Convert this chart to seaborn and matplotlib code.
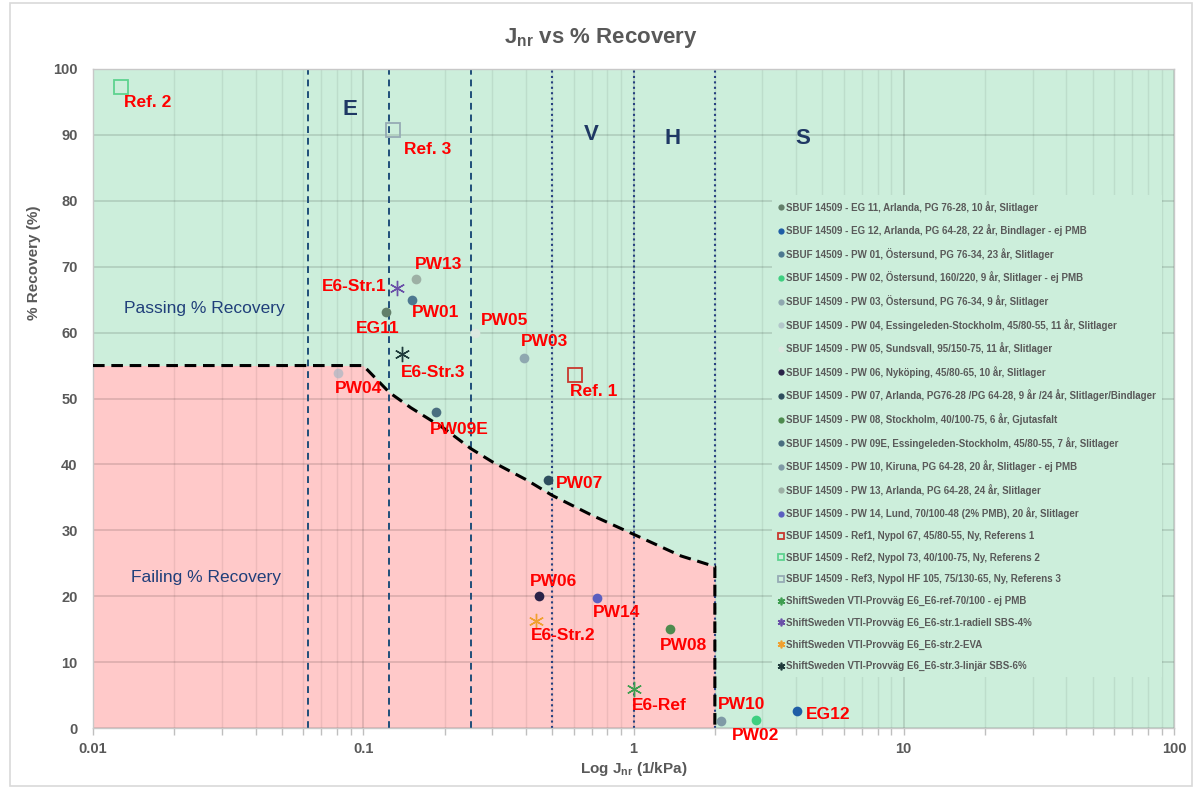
import numpy as np
import pandas as pd
import matplotlib
matplotlib.use("Agg")
import matplotlib.pyplot as plt
import seaborn as sns
from matplotlib.patches import Rectangle
from matplotlib.ticker import FixedLocator, FuncFormatter, NullFormatter

sns.set_style("white")
plt.rcParams['font.family'] = ['Liberation Sans', 'DejaVu Sans']
plt.rcParams['mathtext.fontset'] = 'custom'
plt.rcParams['mathtext.rm'] = 'Liberation Sans'
plt.rcParams['mathtext.bf'] = 'Liberation Sans:bold'

# --- data ---
short = ['EG11', 'EG12', 'PW01', 'PW02', 'PW03', 'PW04', 'PW05', 'PW06', 'PW07', 'PW08',
         'PW09E', 'PW10', 'PW13', 'PW14', 'Ref. 1', 'Ref. 2', 'Ref. 3',
         'E6-Ref', 'E6-Str.1', 'E6-Str.2', 'E6-Str.3']
names = [
    'SBUF 14509 - EG 11, Arlanda, PG 76-28, 10 år, Slitlager',
    'SBUF 14509 - EG 12, Arlanda, PG 64-28, 22 år, Bindlager - ej PMB',
    'SBUF 14509 - PW 01, Östersund, PG 76-34, 23 år, Slitlager',
    'SBUF 14509 - PW 02, Östersund, 160/220, 9 år, Slitlager - ej PMB',
    'SBUF 14509 - PW 03, Östersund, PG 76-34, 9 år, Slitlager',
    'SBUF 14509 - PW 04, Essingeleden-Stockholm, 45/80-55, 11 år, Slitlager',
    'SBUF 14509 - PW 05, Sundsvall, 95/150-75, 11 år, Slitlager',
    'SBUF 14509 - PW 06, Nyköping, 45/80-65, 10 år, Slitlager',
    'SBUF 14509 - PW 07, Arlanda, PG76-28 /PG 64-28, 9 år /24 år, Slitlager/Bindlager',
    'SBUF 14509 - PW 08, Stockholm, 40/100-75, 6 år, Gjutasfalt',
    'SBUF 14509 - PW 09E, Essingeleden-Stockholm, 45/80-55, 7 år, Slitlager',
    'SBUF 14509 - PW 10, Kiruna, PG 64-28, 20 år, Slitlager - ej PMB',
    'SBUF 14509 - PW 13, Arlanda, PG 64-28, 24 år, Slitlager',
    'SBUF 14509 - PW 14, Lund, 70/100-48 (2% PMB), 20 år, Slitlager',
    'SBUF 14509 - Ref1, Nypol 67, 45/80-55, Ny, Referens 1',
    'SBUF 14509 - Ref2, Nypol 73, 40/100-75, Ny, Referens 2',
    'SBUF 14509 - Ref3, Nypol HF 105, 75/130-65, Ny, Referens 3',
    'ShiftSweden VTI-Provväg E6_E6-ref-70/100 - ej PMB',
    'ShiftSweden VTI-Provväg E6_E6-str.1-radiell SBS-4%',
    'ShiftSweden VTI-Provväg E6_E6-str.2-EVA',
    'ShiftSweden VTI-Provväg E6_E6-str.3-linjär SBS-6%',
]
jnr = [0.121, 4.03, 0.152, 2.84, 0.394, 0.0805, 0.259, 0.447, 0.482, 1.37,
       0.186, 2.10, 0.157, 0.733, 0.607, 0.0127, 0.129,
       1.0, 0.133, 0.436, 0.139]
recovery = [63.1, 2.6, 64.9, 1.2, 56.2, 53.9, 60.0, 20.1, 37.7, 15.0,
            48.0, 1.1, 68.2, 19.8, 53.6, 97.3, 90.7,
            5.9, 66.7, 16.3, 56.7]

# pass/fail limit line
limit_jnr = [0.01, 0.1, 0.125, 0.15, 0.2, 0.25, 0.3, 0.4, 0.5, 0.7, 1.0, 1.5, 2.0, 2.0]
limit_rec = [55.0, 55.0, 50.9, 48.6, 45.4, 42.4, 40.4, 37.7, 35.3, 32.3, 29.4, 26.1, 24.5, 0.0]

# grade limits
grade_dashed = [0.0625, 0.125, 0.25]
grade_dotted = [0.5, 1.0, 2.0]
grade_letters = ['E', 'V', 'H', 'S']
grade_pos = [(0.0894, 93.8), (0.70, 90.0), (1.39, 89.4), (4.24, 89.5)]

# --- styles ---
colors = ['#637F6A', '#1F5EA6', '#4D7890', '#3ECF80', '#8FA8B0', '#A9B7C4', '#DCE8E0',
          '#2A2248', '#2E4E5E', '#4E8B4E', '#4A6E80', '#7F9AA6', '#9DB0A5', '#5B5FC0',
          '#C8382E', '#5ED38F', '#96ABB5',
          '#3E9E50', '#6A50A8', '#F0A030', '#1F3B3B']
kinds = ['o'] * 14 + ['s'] * 3 + ['x'] * 4
alphas = {5: 0.7}
offsets = {
    'EG11': (-8, -16), 'EG12': (31, -4), 'PW01': (23, -12), 'PW02': (0, -15),
    'PW03': (20, 16), 'PW04': (21, -16), 'PW05': (30, 12), 'PW06': (15, 14),
    'PW07': (32, -4), 'PW08': (13, -16), 'PW09E': (23, -18), 'PW10': (21, 16),
    'PW13': (22, 14), 'PW14': (20, -15), 'Ref. 1': (19, -17), 'Ref. 2': (27, -16),
    'Ref. 3': (34, -19), 'E6-Ref': (26, -16), 'E6-Str.1': (-43, 2),
    'E6-Str.2': (27, -15), 'E6-Str.3': (31, -18),
}
legend_ms = {'o': 4.5, 's': 4.5, 'x': 5.5}

df = pd.DataFrame({'short': short, 'name': names, 'jnr': jnr, 'rec': recovery})
lim = pd.DataFrame({'jnr': limit_jnr, 'rec': limit_rec})

green = '#CCEEDB'
red = '#FFC9C9'
gray = '#595959'

fig = plt.figure(figsize=(12.02, 7.89), dpi=100)
ax = fig.add_axes([93 / 1202, 61 / 789, 1081 / 1202, 659 / 789])
ax.set_facecolor(green)
fig.patches.append(Rectangle((10 / 1202, 3 / 789), 1182 / 1202, 783 / 789, transform=fig.transFigure,
                             fill=False, edgecolor='#D9D9D9', lw=1.2))

ax.set_xscale('log')
ax.set_xlim(0.01, 100)
ax.set_ylim(0, 100)

# failing area + limit line
ax.fill_between(lim['jnr'], lim['rec'], 0, color=red, lw=0, zorder=0.2)
sns.lineplot(data=lim, x='jnr', y='rec', estimator=None, sort=False, color='black',
             lw=2.2, ax=ax, zorder=3)
ax.lines[-1].set_linestyle((0, (3.8, 2.2)))

for g in grade_dashed:
    ax.axvline(g, color='#1F4E79', lw=1.4, ls=(0, (3.5, 2.5)), zorder=2)
for g in grade_dotted:
    ax.axvline(g, color='#26407F', lw=1.5, ls=(0, (1, 1.6)), zorder=2)
for letter, (gx, gy) in zip(grade_letters, grade_pos):
    ax.text(gx, gy, letter, color='#1F3864', fontsize=16, fontweight='bold', ha='center', va='center')

ax.text(0.0258, 63.7, 'Passing % Recovery', color='#203F7A', fontsize=12.5, ha='center', va='center')
ax.text(0.0262, 22.8, 'Failing % Recovery', color='#203F7A', fontsize=12.5, ha='center', va='center')

# points
for i, row in df.iterrows():
    k = kinds[i]
    c = colors[i]
    if k == 'o':
        ax.plot(row['jnr'], row['rec'], ls='none', marker='o', ms=7, mfc=c, mec='none',
                alpha=alphas.get(i, 1), label=row['name'], zorder=4)
    elif k == 's':
        ax.plot(row['jnr'], row['rec'], ls='none', marker='s', ms=9.5, mfc='none', mec=c,
                mew=1.3, label=row['name'], zorder=4)
    else:
        ax.plot(row['jnr'], row['rec'], ls='none', marker=(6, 2, 0), ms=11, color=c,
                mew=1.0, label=row['name'], zorder=4)
    ax.annotate(row['short'], (row['jnr'], row['rec']), xytext=offsets[row['short']],
                textcoords='offset pixels', ha='center', va='center', color='#FF0000',
                fontsize=12.5, fontweight='bold', zorder=5)

# grid / axes
ax.set_axisbelow(True)
ax.xaxis.set_major_locator(FixedLocator([0.01, 0.1, 1, 10, 100]))
ax.xaxis.set_major_formatter(FuncFormatter(lambda v, p: '{:g}'.format(v)))
ax.xaxis.set_minor_locator(matplotlib.ticker.LogLocator(base=10, subs=np.arange(2, 10)))
ax.xaxis.set_minor_formatter(NullFormatter())
ax.set_yticks(np.arange(0, 101, 10))
ax.grid(True, which='major', color='black', alpha=0.13, lw=1.3)
ax.grid(True, which='minor', axis='x', color='black', alpha=0.07, lw=1.0)
ax.tick_params(axis='y', length=0, pad=11, labelsize=10.5, labelcolor=gray)
ax.tick_params(axis='x', which='both', direction='out', length=5, width=1, color='#BFBFBF',
               pad=5, labelsize=10.5, labelcolor=gray, bottom=True)
for lab in ax.get_xticklabels() + ax.get_yticklabels():
    lab.set_fontweight('bold')
for s in ax.spines.values():
    s.set_color('#C8C8C8')
    s.set_linewidth(1)

ax.set_xlabel(r'Log J$_{\mathbf{nr}}$ (1/kPa)', fontsize=11, fontweight='bold', color=gray)
ax.xaxis.set_label_coords(0.5, -0.048)
ax.set_ylabel('% Recovery (%)', fontsize=11, fontweight='bold', color=gray)
ax.yaxis.set_label_coords(-0.048, 0.706)

fig.text(0.5, 1 - 38 / 789, r'J$_{\mathbf{nr}}$ vs % Recovery', ha='center', va='center',
         fontsize=16, fontweight='bold', color=gray)

leg = ax.legend(loc='upper left', bbox_to_anchor=(0.628, 0.809),
                handlelength=0.6, handletextpad=0.3, labelspacing=1.2, borderaxespad=0,
                borderpad=0.6, frameon=True, facecolor=green,
                edgecolor='none', framealpha=1, fancybox=False,
                prop={'weight': 'bold', 'size': 7})
for t in leg.get_texts():
    t.set_color(gray)
for h, k in zip(leg.legend_handles, kinds):
    h.set_markersize(legend_ms[k])
    if k == 'x':
        h.set_markeredgewidth(1.2)

fig.savefig('out.png', dpi=100)
